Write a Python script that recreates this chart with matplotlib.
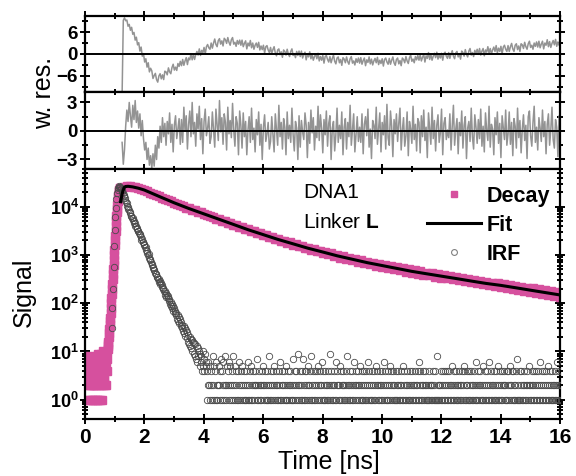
import numpy as np
import matplotlib
matplotlib.use("Agg")
import matplotlib.pyplot as plt
from matplotlib.ticker import MultipleLocator, FixedLocator, LogLocator, FuncFormatter, NullFormatter
from matplotlib.lines import Line2D

plt.rcParams['font.family'] = ['Liberation Sans', 'DejaVu Sans']
plt.rcParams['font.weight'] = 'bold'
plt.rcParams['mathtext.fontset'] = 'custom'
plt.rcParams['mathtext.rm'] = 'Liberation Sans:bold'
plt.rcParams['mathtext.bf'] = 'Liberation Sans:bold'

# ---- data ----
# decay histogram, fine channels (0.01 ns) up to the peak
decay_early_start, decay_early_step = 0.10, 0.01
decay_early = [3, 1, 6, 2, 8, 4, 1, 5, 2, 7,
               3, 2, 5, 1, 4, 6, 2, 3, 1, 5,
               2, 4, 7, 1, 3, 5, 2, 6, 4, 1,
               8, 3, 2, 5, 9, 1, 4, 2, 6, 3,
               7, 1, 5, 2, 9, 4, 3, 8, 1, 6,
               2, 10, 4, 3, 7, 3, 9, 2, 5, 8,
               2, 6, 9, 4, 7,
               10, 11, 13, 14, 16, 20, 24, 29, 35, 42,
               50, 63, 79, 100, 126, 158, 200, 251, 316, 398,
               501, 631, 794, 1000, 1260, 1580, 2000, 2510, 3160, 3980,
               5010, 6310, 7590, 9120, 10960, 12900, 14800, 16600, 18200, 20000,
               21400, 22400, 23400, 24000, 24500]
# decay histogram, 0.1 ns channels after the peak
decay_late_start, decay_late_step = 1.2, 0.1
decay_late = [24800, 25900, 26100, 26500, 25600, 25200, 23800, 23100, 21700, 20800,
              19200, 18500, 17000, 16400, 15100, 14600, 13400, 12900, 11800, 11500,
              10600, 10300, 9500, 9250, 8550, 8350, 7700, 7550, 6950, 6850,
              6300, 6150, 5650, 5600, 5100, 5050, 4600, 4570, 4180, 4130,
              3760, 3730, 3400, 3370, 3080, 3080, 2810, 2810, 2560, 2570,
              2330, 2350, 2120, 2150, 1940, 1970, 1790, 1820, 1640, 1680,
              1500, 1550, 1390, 1420, 1280, 1320, 1190, 1230, 1100, 1150,
              1020, 1070, 945, 995, 880, 935, 820, 880, 770, 825,
              720, 775, 675, 725, 635, 690, 600, 650, 565, 615,
              535, 580, 505, 555, 475, 525, 450, 500, 430, 475,
              410, 455, 390, 430, 375, 415, 355, 395, 340, 380,
              325, 362, 310, 345, 297, 330, 283, 315, 270, 300,
              258, 288, 246, 277, 236, 266, 228, 256, 218, 247,
              208, 236, 199, 228, 190, 219, 181, 210, 172, 202,
              165, 193, 157, 184, 150, 176, 143, 170, 137]

# tail fit
fit_t = [1.2, 1.24, 1.28, 1.32, 1.36, 1.45, 1.6, 1.8, 2.0, 2.5, 3.0, 3.5, 4.0, 4.5, 5.0,
         5.5, 6.0, 6.5, 7.0, 7.5, 8.0, 8.5, 9.0, 9.5, 10.0, 10.5, 11.0, 11.5, 12.0,
         12.5, 13.0, 13.5, 14.0, 14.5, 15.0, 15.5, 16.0]
fit_v = [12600, 17000, 21500, 24800, 26000, 26300, 25600, 24000, 22000, 16200, 12000,
         9120, 7080, 5500, 4270, 3310, 2630, 2090, 1700, 1380, 1150, 955, 813, 692,
         603, 525, 457, 407, 363, 324, 288, 257, 234, 209, 186, 166, 148]

# instrument response, 0.02 ns channels over the pulse
irf_peak_start, irf_peak_step = 0.90, 0.02
irf_peak = [30, 80, 200, 560, 1500, 3200, 6100, 9400, 14200, 18800,
            22400, 24600, 25800, 26200, 25600, 24600, 23300, 21800, 19800, 18700,
            17300, 16400, 14800, 13900, 12300, 11700, 10300, 9900, 8800, 8600,
            7600, 7400, 6400, 6400, 5700, 5800, 5200, 5100, 4600, 4550,
            4000, 4050, 3500, 3550, 3080, 3120, 2870, 2700, 2540, 2370,
            2080, 2120, 1850, 1830, 1600, 1710, 1480, 1470, 1290, 1220,
            1120, 990, 1040, 880, 830, 790, 720, 660, 630, 560,
            545, 480, 485, 430, 398, 405, 355, 350, 320, 315,
            278, 288, 248, 262, 220, 238, 196, 205, 175, 178,
            150, 165, 135, 150, 126, 138, 112, 120, 98, 104,
            86, 95, 78, 88, 70, 80, 63, 69, 57, 62,
            48, 56, 43, 52, 38, 46, 33, 41, 30, 36,
            26, 33, 24, 30, 21, 28, 19, 25, 16, 22,
            14, 20, 13, 18, 12, 17, 10, 16, 9, 15,
            8, 14, 7, 13, 6, 12, 8, 10, 5, 9,
            6, 8, 4, 10, 5, 7, 4, 9, 6, 5]
# instrument response baseline, 0.02 ns channels, one digit per channel
irf_tail_start, irf_tail_step = 4.10, 0.02
irf_tail_digits = (
    "41262512418215416212524171426128215421625142182514"
    "21412614215214121421612415214212421712421214251241"
    "21421812412415212412142161241241251214212412171241"
    "24129124214172141241251241821412412142512412614121"
    "42124129124121421612421251421241212418212412412162"
    "14212412512412141241261241214124121524121421241261"
    "24121412512412412141212412142151241212412141241212"
    "41212416124121421241212141212124121418121212412141"
    "24121412412125124121412124121241254121241412141212"
    "41261214212412151241214126124121214124125121421412"
    "24121412412512414121241712141241212412124125121421"
    "24121412412612412141241215124121421214126121421241")
irf_tail = [int(c) for c in irf_tail_digits]

# weighted residuals, 0.04 ns channels
res_start, res_step = 1.25, 0.04
res_mono = [-11.0, 9.2, 9.9, 9.1, 9.3, 7.6, 8.1, 6.5, 7.3, 5.4, 5.9, 3.8, 4.6, 2.5, 3.1,
            0.8, 1.9, -0.6, 0.1, -2.2, -1.3, -3.6, -2.4, -4.9, -3.9,
            -4.6, -6.7, -5.9, -5.3, -7.0, -7.7, -6.0, -5.4, -6.8, -5.7, -7.0, -4.7, -4.9,
            -5.7, -3.8, -4.9, -5.4, -3.7, -2.8, -4.4, -3.6, -4.5, -2.6, -3.4, -2.0,
            -3.2, -1.5, -3.1, -1.9, -1.0, -2.9, -1.1, -1.6, 0.1, -1.6, -0.1, -1.5, -0.2,
            0.7, -0.3, 1.4, -0.4, 1.0, 0.3, 1.8, 0.0, 2.0, 2.6, 1.7, 1.3,
            3.0, 1.6, 3.0, 4.1, 2.6, 2.0, 3.7, 4.2, 2.7, 3.6, 2.2, 4.3, 3.9, 2.9, 4.5,
            3.2, 2.4, 3.9, 4.5, 2.7, 3.2, 2.1, 3.7, 2.7, 3.8,
            2.4, 3.8, 2.0, 2.9, 3.6, 1.4, 3.0, 2.2, 3.7, 1.7, 3.0, 1.3, 2.4, 3.0, 1.8,
            3.2, 1.1, 2.2, 1.2, 2.4, 0.3, 2.0, 2.3, 1.1, 0.4,
            1.8, 0.1, 1.2, 2.0, 0.3, -0.5, 1.1, 1.4, -0.2, 0.6, -0.9, 1.1, 0.7, -0.3, 1.3,
            0.0, -0.7, 0.7, 1.4, -0.4, 0.1, -1.0, 0.7, -0.4, 0.8,
            -0.7, 0.8, -1.1, -0.1, 0.5, -1.6, -0.1, -0.8, 0.6, -1.3, -0.1, -1.7, -0.7,
            0.0, -1.3, 0.2, -1.9, -0.7, -1.7, -0.4, -2.5, -0.7, -0.4, -1.5, -2.2,
            -0.7, -2.4, -1.2, -0.3, -2.0, -2.7, -1.1, -0.8, -2.4, -1.5, -3.1, -1.0, -1.4,
            -2.4, -0.8, -2.1, -2.8, -1.3, -0.7, -2.5, -1.9, -3.0, -1.3, -2.3, -1.1,
            -2.5, -1.0, -2.8, -1.8, -1.1, -3.2, -1.6, -2.3, -0.8, -2.7, -1.4, -3.0, -1.9,
            -1.2, -2.4, -0.9, -2.9, -1.7, -2.6, -1.3, -3.3, -1.5, -1.1, -2.2, -2.8,
            -1.2, -2.8, -1.7, -0.8, -2.4, -3.1, -1.5, -1.1, -2.7, -1.8, -3.2, -1.1, -1.5,
            -2.4, -0.7, -1.9, -2.6, -1.0, -0.3, -2.0, -1.4, -2.4, -0.7, -1.6, -0.4,
            -1.7, -0.2, -1.9, -0.9, -0.1, -2.2, -0.5, -1.2, 0.4, -1.5, -0.1, -1.7, -0.6,
            0.2, -1.0, 0.5, -1.4, -0.2, -1.1, 0.2, -1.7, 0.1, 0.5, -0.6, -1.2,
            0.4, -1.2, 0.0, 0.9, -0.6, -1.3, 0.3, 0.7, -0.8, 0.1, -1.4, 0.8, 0.4, -0.6,
            1.2, -0.1, -0.8, 0.8, 1.5, -0.3, 0.4, -0.7, 1.0, 0.1, 1.3,
            -0.1, 1.5, -0.3, 0.8, 1.5, -0.5, 1.1, 0.5, 2.0, 0.2, 1.5, 0.0, 1.1, 1.9, 0.7,
            2.3, 0.3, 1.6, 0.7, 2.1, 0.1, 1.9, 2.4, 1.3, 0.7,
            2.3, 0.7, 2.0, 2.9, 1.4, 0.7, 2.4, 2.8, 1.2, 2.2, 0.7, 2.8, 2.5, 1.5, 3.2,
            2.0, 1.3, 2.8, 3.5, 1.8, 2.4, 1.3, 3.0, 2.1, 3.3,
            1.9, 3.5, 1.7, 2.7, 3.5, 1.4, 3.0, 2.4, 3.9, 2.0, 3.4, 1.8, 2.9, 3.7, 2.5,
            4.0, 2.1, 3.3, 2.4, 3.8, 1.8, 3.6, 4.1, 3.0, 2.4]
res_multi = [-1.2, -3.5, -2.0, 0.5, 2.2, 1.0, 3.0, 1.6, 0.4, 2.7, 1.2, 3.2, 0.9, 2.1, 0.3,
             1.8, -0.5, 1.1, -0.8, -2.0, -1.2, -3.0, -1.8, -3.6, -2.6,
             -3.9, -2.4, -3.7, -1.5, -3.0, -0.6, -1.8, 0.5, -1.2, 1.4, -0.6, 0.8, -1.5,
             1.0, -0.3, 1.9, -1.2, 0.7, -2.2, 0.6, 1.6, -0.8, 0.2, 1.3, -1.4,
             1.2, -1.2, 2.5, 0.0, 1.6, -1.9, 0.7, 2.1, -0.6, 3.0, -0.3, 0.9, -1.6, 1.8,
             0.2, 2.6, -0.9, 1.3, -2.4, 1.0, 2.3, -0.5, 0.3, 1.5, -1.3,
             -0.6, 2.0, 0.2, -1.7, 2.3, 0.7, -1.0, 3.2, -0.1, 1.4, -1.4, 1.8, 0.9, -2.0,
             2.5, -0.3, 1.1, -0.7, 2.9, 0.1, -1.6, 1.5, 0.8, -2.5, 2.1,
             0.6, -1.8, 1.9, -0.6, 1.0, -2.5, 0.1, 1.5, -1.2, 2.4, -0.9, 0.3, -2.2, 1.2,
             -0.4, 2.0, -1.5, 0.7, -3.0, 0.4, 1.7, -1.1, -0.3, 0.9, -1.9,
             -1.1, 1.5, -0.3, -2.2, 1.8, 0.2, -1.5, 2.7, -0.6, 0.9, -1.9, 1.3, 0.4, -2.5,
             2.0, -0.8, 0.6, -1.2, 2.4, -0.4, -2.1, 1.0, 0.3, -3.0, 1.6,
             -1.7, 1.1, -0.1, -0.9, 1.9, 0.6, -2.8, 0.9, -1.3, 2.2, -0.2, 1.4, -2.0, 0.5,
             -0.7, 2.6, -1.0, 1.7, 0.3, -2.3, 1.2, -0.4, 2.1, -1.6, 0.8,
             1.6, -3.0, 0.3, 1.0, -2.1, -0.4, 2.4, -1.2, 0.6, -0.8, 2.0, -2.5, 0.4, 1.3,
             -1.9, 0.9, -0.6, 2.7, -1.5, 0.2, 1.8, -2.2, -0.3, 1.5, -1.1,
             0.4, -1.2, 1.8, -2.4, 0.7, 1.5, -0.5, 2.3, -1.7, 0.2, -2.9, 1.1, 0.6, -0.8,
             2.5, -1.4, 0.3, 1.9, -2.2, 0.9, -0.4, 1.6, -1.9, 2.8, -0.7,
             -1.5, 2.1, 0.5, -2.7, 1.2, -0.3, 1.8, -1.1, 0.8, 2.4, -2.0, 0.1, 1.4, -1.6,
             -0.5, 2.0, -2.6, 1.0, 0.2, -1.3, 2.6, -0.9, 0.7, -2.1, 1.3,
             0.9, -2.3, 1.6, -0.6, 2.2, -1.0, 0.4, -2.8, 1.9, 0.3, -1.4, 2.5, -0.8, 1.1,
             -2.1, 0.6, 1.7, -1.2, -0.2, 2.3, -2.5, 0.8, 1.4, -0.9, 0.1,
             -0.7, 1.8, -2.0, 0.5, 2.7, -1.5, 0.2, 1.3, -2.4, 0.9, -0.5, 2.1, -1.8, 0.6,
             1.5, -2.9, 0.3, 1.0, -1.1, 2.4, -0.6, -1.9, 1.7, 0.4, -1.3,
             1.2, -0.8, 2.3, -1.6, 0.5, -2.2, 1.9, 0.1, -1.0, 2.6, -1.7, 0.7, 0.2, -2.5,
             1.4, -0.4, 2.0, -1.3, 0.8, -2.8, 1.6, 0.3, -0.9, 2.2, -1.5,
             -0.3, 2.0, -1.4, 0.9, -2.6, 1.3, 0.5, -1.8, 2.4, -0.7, 1.1, -2.3, 0.2, 1.7,
             -1.0, 0.6, -2.9, 1.5, 2.1, -0.5, -1.6, 0.9, 2.6, -1.2, 0.4,
             -2.0, 1.4, 0.3, -1.1, 2.2, -0.6, 1.0, -2.4, 0.7, 1.8, -1.5, 0.1, 2.5, -0.9,
             -1.8, 1.2, 0.4, -2.7, 1.6, -0.3, 2.0, -1.2, 0.8, -0.5, 1.1]


def channel_times(start, step, values):
    return start + step * np.arange(len(values))


pink = '#d6509e'
res_grey = '#939393'
irf_edge = '#4a4a4a'

fig = plt.figure(figsize=(5.76, 4.76), dpi=100)
W, H = 576.0, 476.0
left, right = 85 / W, 560 / W
ax1 = fig.add_axes([left, 1 - 92 / H, right - left, 76 / H])
ax2 = fig.add_axes([left, 1 - 169 / H, right - left, 77 / H])
ax3 = fig.add_axes([left, 1 - 419 / H, right - left, 250 / H])

# residual panels
ax1.plot(channel_times(res_start, res_step, res_mono), res_mono, color=res_grey, lw=1.1)
ax2.plot(channel_times(res_start, res_step, res_multi), res_multi, color=res_grey, lw=1.1)
for ax in (ax1, ax2):
    ax.axhline(0, color='black', lw=1.4, zorder=3)
ax1.set_ylim(-10.4, 10.4)
ax1.yaxis.set_major_locator(FixedLocator([-6, 0, 6]))
ax1.yaxis.set_minor_locator(MultipleLocator(3))
ax2.set_ylim(-4.0, 4.1)
ax2.yaxis.set_major_locator(FixedLocator([-3, 0, 3]))
ax2.yaxis.set_minor_locator(MultipleLocator(1.5))

# decay panel
sq_kw = dict(ls='none', marker='s', ms=5.4, color=pink, mec=pink, zorder=2)
ax3.plot(channel_times(decay_early_start, decay_early_step, decay_early), decay_early, **sq_kw)
ax3.plot(channel_times(decay_late_start, decay_late_step, decay_late), decay_late, **sq_kw)
irf_kw = dict(ls='none', marker='o', ms=4.6, mfc='none', mec=irf_edge, mew=0.6, zorder=3)
ax3.plot(channel_times(irf_peak_start, irf_peak_step, irf_peak), irf_peak, **irf_kw)
ax3.plot(channel_times(irf_tail_start, irf_tail_step, irf_tail), irf_tail, **irf_kw)
ax3.plot(fit_t, fit_v, color='black', lw=2.2, zorder=4)
ax3.set_yscale('log')
ax3.set_ylim(0.4, 6e4)
ax3.yaxis.set_major_locator(LogLocator(base=10, numticks=10))
ax3.yaxis.set_minor_locator(LogLocator(base=10, subs=np.arange(2, 10), numticks=20))
ax3.yaxis.set_major_formatter(FuncFormatter(lambda v, p: r'$\mathbf{10^{%d}}$' % round(np.log10(v))))
ax3.yaxis.set_minor_formatter(NullFormatter())

for ax in (ax1, ax2, ax3):
    ax.set_xlim(0, 16)
    ax.xaxis.set_major_locator(MultipleLocator(2))
    ax.xaxis.set_minor_locator(MultipleLocator(1))
    for s in ax.spines.values():
        s.set_linewidth(1.6)
    ax.tick_params(which='both', direction='inout', top=True, right=True, width=1.4)
    ax.tick_params(which='major', length=7)
    ax.tick_params(which='minor', length=4)
    ax.tick_params(axis='y', labelsize=13.5, pad=2)
for ax in (ax1, ax2):
    ax.tick_params(axis='x', labelbottom=False)
ax3.tick_params(axis='x', labelsize=15, pad=3)
ax3.tick_params(axis='y', labelsize=13, pad=1)

# labels
fig.text(44 / W, 1 - 93 / H, 'w. res.', rotation=90, ha='center', va='center',
         fontsize=18, fontweight='normal')
fig.text(24 / W, 1 - 292 / H, 'Signal', rotation=90, ha='center', va='center',
         fontsize=18, fontweight='normal')
fig.text(329 / W, 1 - 462 / H, 'Time [ns]', ha='center', va='center',
         fontsize=18, fontweight='normal')

fig.text(303 / W, 1 - 193 / H, 'DNA1', ha='left', va='center', fontsize=15, fontweight='normal')
fig.text(303 / W, 1 - 222 / H, r'Linker $\mathbf{L}$', ha='left', va='center',
         fontsize=15, fontweight='normal')

handles = [Line2D([], [], ls='none', marker='s', ms=5, color=pink, mec=pink),
           Line2D([], [], color='black', lw=2.2),
           Line2D([], [], ls='none', marker='o', ms=4.2, mfc='none', mec='#808080', mew=0.8)]
ax3.legend(handles, ['Decay', 'Fit', 'IRF'], loc='upper left',
           bbox_to_anchor=(427 / W, 1 - 186 / H), bbox_transform=fig.transFigure,
           frameon=False, fontsize=15.5, handlelength=2.5, handletextpad=0.25,
           labelspacing=0.36, borderpad=0, borderaxespad=0, numpoints=1)

fig.savefig('out.png', dpi=100)
